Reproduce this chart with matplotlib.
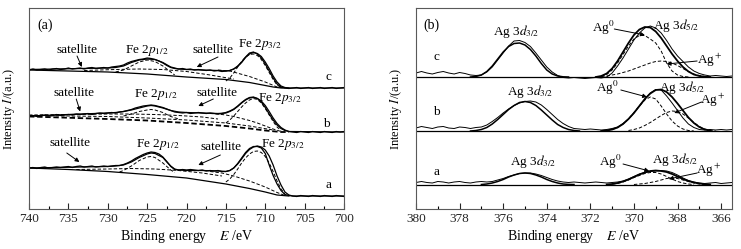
import numpy as np
import matplotlib
matplotlib.use("Agg")
import matplotlib.pyplot as plt
from matplotlib.ticker import MultipleLocator

plt.rcParams['font.family'] = ['Liberation Serif', 'DejaVu Serif']
plt.rcParams['mathtext.fontset'] = 'stix'

# ---------------- Panel (a): Fe 2p ----------------
fe_energy = np.arange(740, 699.9, -0.5)          # eV sampling of raw data
fe_raw_c = [139, 140, 139, 139.5, 140, 139, 140, 140.5, 139.5, 140, 141, 140, 140.5, 141, 140, 141, 141.5,
            140.5, 141, 141.5, 141, 142, 142.5, 143, 144, 146, 147.5, 148.5, 149.5, 150, 151, 150.5, 149.5,
            148, 146, 143.5, 141.5, 140.5, 140, 140.5, 139.5, 140, 139, 139.5, 139, 138.5, 139, 138, 138.5,
            137.5, 138, 138.5, 140, 143, 147, 152, 156, 157, 155, 151, 145, 138, 131, 125, 122, 121, 120.5,
            121, 121.5, 120.5, 121, 121.5, 120.5, 121, 121.5, 120.5, 121, 121.5, 120.5, 121, 121.5]
fe_raw_b = [93, 93.5, 92.5, 93.5, 94, 93, 93.5, 94.5, 93.5, 94, 94.5, 94, 95, 94.5, 95, 95.5, 94.5, 95.5, 96,
            95.5, 96, 96.5, 96, 97, 97.5, 98.5, 99.5, 101, 102, 103, 103.5, 104, 103.5, 102.5, 101.5, 100,
            98.5, 97, 96.5, 96, 96.5, 95.5, 96, 96.5, 96, 95.5, 96, 95.5, 95, 95.5, 96.5, 98, 100, 103, 106.5,
            109.5, 111.5, 112, 110.5, 107, 101.5, 95, 89, 84, 80.5, 78.5, 77.5, 77, 76.5, 77.5, 77, 76.5, 77.5,
            77, 76.5, 77.5, 77, 76.5, 77.5, 77, 77.5]
fe_raw_a = [41, 41.5, 40.5, 41.5, 42, 41, 41.5, 42, 41.5, 42, 42.5, 41.5, 42.5, 43, 42, 42.5, 43, 42, 42.5,
            43, 42.5, 43, 43.5, 43.5, 44.5, 46, 48, 50.5, 52.5, 54.5, 56, 57, 56.5, 55, 52, 47.5, 42.5, 39.5,
            39, 39.5, 39, 39.5, 39, 38.5, 39, 38, 38.5, 38, 38.5, 37.5, 37.5, 38.5, 41, 45.5, 51, 56.5, 60.5,
            62.5, 62.5, 61, 55.5, 44, 33.5, 25, 18.5, 14.5, 13.5, 13, 12.5, 13.5, 13, 12.5, 13.5, 13, 12.5,
            13.5, 13, 12.5, 13.5, 13, 12.5]

fe_fit_c_x = [740, 730, 729, 728, 727, 726, 725, 724, 723, 722, 721, 720, 718, 716, 715, 714.5, 714, 713.5,
              713, 712.5, 712, 711.5, 711, 710.5, 710, 709.5, 709, 708.5, 708, 707.5, 707, 700]
fe_fit_c_y = [139.5, 141, 141.5, 143, 146.5, 149, 150, 149.5, 146.5, 142, 140, 139.5, 139, 138.5, 138, 138.5,
              140, 142.5, 146.5, 151.5, 155, 156.5, 155.5, 152.5, 147, 140.5, 133, 127, 123, 121.5, 121, 121]
fe_fit_b_x = [740, 730, 729, 728, 727, 726, 725, 724.5, 724, 723, 722, 721, 720, 718, 716, 715, 714.5, 714,
              713.5, 713, 712.5, 712, 711.5, 711, 710.5, 710, 709.5, 709, 708.5, 708, 707.5, 707, 700]
fe_fit_b_y = [93, 96, 96.5, 97.5, 99, 101, 103, 103.5, 103, 101, 98.5, 97, 96.5, 96, 95.5, 96, 97.5, 99.5,
              102.5, 106, 109, 111, 111.5, 110.5, 108, 103.5, 97.5, 91, 85.5, 81.5, 79, 77.5, 77]
fe_fit_a_x = [740, 730, 729, 728, 727, 726, 725, 724.5, 724, 723, 722.5, 722, 721.5, 721, 720, 718, 716, 715,
              714.5, 714, 713.5, 713, 712.5, 712, 711.5, 711, 710.5, 710, 709.5, 709, 708.5, 708, 707.5, 707,
              706.5, 700]
fe_fit_a_y = [41, 42.5, 43, 44, 47, 51.5, 55, 56, 55.5, 51.5, 47, 43, 40, 39, 38.5, 38.5, 38, 37.5, 38.5, 41,
              45, 50, 55.5, 59.5, 62, 63, 62, 59, 53, 44, 33, 24, 17, 14, 13, 13]

fe_bg_c_x = [740, 730, 725, 720, 715, 712, 710, 709, 708, 707]
fe_bg_c_y = [139, 137, 135, 132, 129.5, 126.5, 123.5, 122, 121, 121]
fe_bg_b_x = [740, 730, 725, 720, 715, 712, 710, 708, 707]
fe_bg_b_y = [92.5, 90, 88.5, 86, 83, 80.5, 78.5, 77, 77]
fe_bg_a_x = [740, 735, 730, 725, 720, 715, 712, 710, 708.5, 707]
fe_bg_a_y = [41, 39.5, 37.5, 34.5, 31, 25, 20.5, 17, 14, 13]

# fitted components (dashed)
c_sat1_x = [733, 729, 726, 723, 720, 717, 714]
c_sat1_y = [138.5, 139.5, 140, 139.5, 137.5, 134, 130]
c_p12_x = [729, 728, 727, 726, 725, 724, 723, 722, 721.5]
c_p12_y = [137, 139, 143, 147, 149, 147.5, 143, 137, 134]
c_sat2_x = [716, 714.5, 712, 710, 708.5, 707.5]
c_sat2_y = [139, 138, 132.5, 127, 122, 121]
c_p32_x = [715, 714.5, 714, 713.5, 713, 712.5, 712, 711.5, 711, 710.5, 710, 709.5, 709, 708.5, 708]
c_p32_y = [128, 131, 136, 142, 147.5, 152, 154.5, 155, 153.5, 149.5, 143.5, 136.5, 129.5, 124, 121.5]

b_sat1_x = [740, 735, 730, 727, 724, 721, 718, 716]
b_sat1_y = [94, 94.5, 95, 95, 94.5, 93.5, 92, 90]
b_sat1b_x = [740, 730, 725, 720, 715, 712, 709]
b_sat1b_y = [93.5, 92.5, 91, 89, 86, 83, 79]
b_p12_x = [728, 727, 726, 725, 724.5, 724, 723, 722, 721]
b_p12_y = [93, 95, 97.5, 99, 99.5, 99, 96.5, 92.5, 90]
b_sat2_x = [717, 716, 715, 714, 713, 712, 711, 710, 709, 708]
b_sat2_y = [95.5, 95, 94, 92.5, 90.5, 88.5, 86, 83, 80, 77.5]
b_p32_x = [715, 714.5, 714, 713.5, 713, 712.5, 712, 711.5, 711, 710.5, 710, 709.5, 709, 708.5, 708]
b_p32_y = [86, 89, 93, 97.5, 102, 106, 109, 110.5, 109.5, 106, 100.5, 94, 87.5, 82, 78.5]

a_sat1_x = [734, 730, 727, 724, 721, 718, 715.5]
a_sat1_y = [39.5, 40, 40.5, 40, 38.5, 36, 33]
a_p12_x = [728.5, 728, 727, 726, 725, 724.5, 724, 723, 722, 721.5]
a_p12_y = [37, 38.5, 43, 48.5, 52, 52.5, 51.5, 46, 39, 36.5]
a_sat2_x = [717, 715.5, 714, 712, 710, 708.5, 707.5]
a_sat2_y = [37.5, 36, 33, 28, 22, 16.5, 13.5]
a_p32_x = [715, 714.5, 714, 713.5, 713, 712.5, 712, 711.5, 711, 710.5, 710, 709.5, 709, 708.5, 708, 707.5]
a_p32_y = [27, 30, 34.5, 40, 46, 51, 55, 57.5, 58, 56.5, 52.5, 46, 37.5, 28, 20, 15]

# ---------------- Panel (b): Ag 3d ----------------
ag_energy = np.arange(380, 365.49, -0.25)
ag_raw_c = [136, 137.5, 136, 135, 136.5, 137.5, 136, 135, 136.5, 135.5, 134, 133.5, 134, 137, 142, 149, 156,
            163, 168, 168.5, 166.5, 162.5, 156, 149, 142, 137, 133.5, 131.5, 131, 131.5, 131, 130.5, 131,
            131.5, 131, 132, 136, 143, 151, 160, 169, 176, 181, 183, 181, 176, 168.5, 160, 153, 147.5, 142,
            138, 135.5, 134, 133, 133.5, 133, 132.5, 133]
ag_raw_b = [81, 82.5, 81.5, 80.5, 82, 82.5, 81, 80.5, 82, 81.5, 80.5, 81.5, 82, 84, 87.5, 91.5, 96, 100,
            103.5, 106, 107.5, 108, 107, 104, 99.5, 94.5, 89.5, 85.5, 82.5, 80.5, 80, 79.5, 80, 79.5, 79,
            79.5, 80.5, 82, 85.5, 90, 96, 103, 110, 116, 119.5, 119, 113, 106, 98.5, 91, 85, 81.5, 79.5, 79,
            79.5, 79, 79.5, 79, 79.5]
ag_raw_a = [26.5, 27.5, 26.5, 26, 27.5, 27, 26, 27, 27.5, 26.5, 26, 27, 27.5, 27, 27.5, 29, 30.5, 32.5, 34,
            35.5, 36, 36, 35, 33.5, 31.5, 29.5, 28, 27, 26.5, 27, 26.5, 26, 26.5, 27, 26.5, 26, 26.5, 27, 28,
            30, 32.5, 35, 36.5, 37.5, 38, 38.5, 38, 36.5, 34, 31, 28.5, 27, 26, 25.5, 26, 26.5, 25.5, 26,
            26.5]
ag_baselines = [132, 78, 24.5]

ag_fit_c_d3 = (377.5, [132, 132.5, 134, 137.5, 143, 150, 157, 162.5, 165.5, 166, 164, 159.5, 153, 145.5, 139,
                       135, 133, 132.2, 132])
ag_fit_c_d5 = (371.75, [132, 133, 135.5, 140.5, 148, 157, 166, 174, 179.5, 182, 181.5, 177.5, 171, 163, 155,
                        148, 142, 137.5, 134.5, 133, 132.3, 132])
ag_c_ag0 = (371.5, [132.5, 134.5, 139, 146, 154.5, 163, 170, 173.5, 173.5, 170, 166, 158, 146, 138, 134,
                    132.5, 132])
ag_c_agp = (371.5, [132.5, 133, 134, 135, 136.5, 138, 140, 142, 144, 146, 147.5, 148, 147.5, 146, 143.5,
                    140.5, 137.5, 135, 133.5, 132.5, 132])

ag_fit_b_d3 = (377.5, [78, 78.5, 79.5, 81.5, 85, 89.5, 94.5, 99.5, 103.5, 106.5, 107.5, 106.5, 103.5, 99, 94,
                       89, 84.5, 81.5, 79.5, 78.5, 78])
ag_fit_b_d5 = (371.5, [78, 78.5, 79.5, 81.5, 85, 90, 96, 103, 110, 115.5, 119, 119.5, 117, 112, 105.5, 98.5,
                       91.5, 86, 82, 79.5, 78.3])
ag_b_ag0 = (371.25, [78.5, 79.5, 81.5, 85, 90, 96.5, 103, 109, 112, 110, 103, 95, 88, 83, 80, 78.5, 78])
ag_b_agp = (370.25, [78.5, 79.5, 81, 83.5, 86.5, 90, 93.5, 96.5, 98, 97.5, 95, 91, 86.5, 82.5, 80, 78.8, 78])

ag_fit_a_d3 = (377.0, [24.5, 25, 26, 27.5, 29.5, 32, 34, 35.5, 36, 35.5, 34, 32, 29.5, 27.5, 26, 25, 24.6,
                       24.5])
ag_fit_a_d5 = (371.25, [24.5, 25, 26, 27.5, 29.5, 32, 34.5, 36.5, 38, 38.5, 38, 37, 35, 32.5, 30, 28, 26.5,
                        25.5, 24.8, 24.5])
ag_a_ag0 = (371.0, [24.8, 25.5, 27, 29, 31.5, 33.5, 35.5, 36.5, 36.5, 35, 32.5, 30, 27.5, 26, 25, 24.5])
ag_a_agp = (370.0, [24.5, 25, 25.5, 26.5, 27.5, 29, 30.5, 31, 30.5, 29, 27.5, 26, 25, 24.5])

# ---------------- Figure ----------------
fig = plt.figure(figsize=(7.41, 2.49), dpi=100)
axA = fig.add_axes([29 / 741, 40 / 249, 315 / 741, 201 / 249])
axB = fig.add_axes([416 / 741, 40 / 249, 316 / 741, 201 / 249])

DASH = (0, (3.5, 2))
K = 'black'
RAW_LW = 0.9
FIT_LW = 0.9
DLW = 0.7

# Panel (a)
for raw, fx, fy, bx, by, bstyle in [
        (fe_raw_c, fe_fit_c_x, fe_fit_c_y, fe_bg_c_x, fe_bg_c_y, '-'),
        (fe_raw_b, fe_fit_b_x, fe_fit_b_y, fe_bg_b_x, fe_bg_b_y, '--'),
        (fe_raw_a, fe_fit_a_x, fe_fit_a_y, fe_bg_a_x, fe_bg_a_y, '-')]:
    axA.plot(fe_energy, raw, color=K, lw=RAW_LW)
    axA.plot(fx, fy, color=K, lw=FIT_LW)
    if bstyle == '-':
        axA.plot(bx, by, color=K, lw=0.9)
    else:
        axA.plot(bx, by, color=K, lw=1.3, linestyle=(0, (3, 1.5)))

for cx, cy in [(c_sat1_x, c_sat1_y), (c_p12_x, c_p12_y), (c_sat2_x, c_sat2_y), (c_p32_x, c_p32_y),
               (b_sat1_x, b_sat1_y), (b_sat1b_x, b_sat1b_y), (b_p12_x, b_p12_y), (b_sat2_x, b_sat2_y),
               (b_p32_x, b_p32_y),
               (a_sat1_x, a_sat1_y), (a_p12_x, a_p12_y), (a_sat2_x, a_sat2_y), (a_p32_x, a_p32_y)]:
    axA.plot(cx, cy, color=K, lw=DLW, linestyle=DASH)

axA.set_xlim(740, 700)
axA.set_ylim(0, 201)
axA.xaxis.set_major_locator(MultipleLocator(5))
axA.xaxis.set_minor_locator(MultipleLocator(2.5))

# Panel (b)
for raw, base in zip([ag_raw_c, ag_raw_b, ag_raw_a], ag_baselines):
    axB.plot(ag_energy, raw, color=K, lw=0.7)
    axB.axhline(base, color=K, lw=0.9)


def seg(start, vals):
    x = start - 0.25 * np.arange(len(vals))
    return x, vals


for d3, d5 in [(ag_fit_c_d3, ag_fit_c_d5), (ag_fit_b_d3, ag_fit_b_d5), (ag_fit_a_d3, ag_fit_a_d5)]:
    axB.plot(*seg(*d3), color=K, lw=1.1)
    axB.plot(*seg(*d5), color=K, lw=1.3)
for comp in [ag_c_ag0, ag_c_agp, ag_b_ag0, ag_b_agp, ag_a_ag0, ag_a_agp]:
    axB.plot(*seg(*comp), color=K, lw=DLW, linestyle=DASH)

axB.set_xlim(380, 365.5)
axB.set_ylim(0, 201)
axB.xaxis.set_major_locator(MultipleLocator(2))
axB.xaxis.set_minor_locator(MultipleLocator(1))

for ax in (axA, axB):
    ax.set_yticks([])
    ax.tick_params(axis='x', which='major', direction='in', length=4, width=0.8, labelsize=9.5, pad=3,
                   colors='0.15')
    ax.tick_params(axis='x', which='minor', direction='in', length=2.5, width=0.8)
    for s in ax.spines.values():
        s.set_color('0.35')
        s.set_linewidth(0.8)
    ax.set_xlabel('Binding energy    $E$ /eV', fontsize=10, labelpad=2)
    ax.set_ylabel('Intensity $I$/(a.u.)', fontsize=9, labelpad=4)

FS = 9.5
arrow = dict(arrowstyle='-|>', color=K, lw=0.7, mutation_scale=6, shrinkA=0, shrinkB=0)

# annotations panel (a)
axA.text(739.0, 184, '(a)', fontsize=10, ha='left', va='center')
for (tx, ty), (sx, sy), (ex, ey) in [
        ((733.9, 159), (733.9, 153), (733.3, 142)),
        ((716.6, 159), (716.0, 152), (718.7, 142)),
        ((734.3, 116), (734.0, 110), (733.5, 97.5)),
        ((716.1, 116), (716.6, 110), (718.5, 103)),
        ((734.8, 66), (735.2, 56), (733.6, 47)),
        ((715.6, 62), (715.7, 54), (718.5, 44))]:
    axA.text(tx, ty, 'satellite', fontsize=FS, ha='center', va='center')
    axA.annotate('', xy=(ex, ey), xytext=(sx, sy), arrowprops=arrow)
for tx, ty in [(725.0, 159), (723.9, 115), (723.7, 64)]:
    axA.text(tx, ty, 'Fe 2$p_{1/2}$', fontsize=FS, ha='center', va='center')
for tx, ty in [(710.7, 164), (708.1, 110), (707.8, 64)]:
    axA.text(tx, ty, 'Fe 2$p_{3/2}$', fontsize=FS, ha='center', va='center')
for tx, ty, lab in [(702.0, 132, 'c'), (702.2, 85, 'b'), (702.0, 24, 'a')]:
    axA.text(tx, ty, lab, fontsize=FS, ha='center', va='center')

# annotations panel (b)
axB.text(379.27, 184, '(b)', fontsize=10, ha='center', va='center')
for tx, ty, lab in [(379.05, 152, 'c'), (379.05, 97, 'b'), (379.05, 37, 'a')]:
    axB.text(tx, ty, lab, fontsize=FS, ha='center', va='center')
for tx, ty in [(375.4, 177), (374.75, 117), (374.6, 47)]:
    axB.text(tx, ty, 'Ag 3$d_{3/2}$', fontsize=FS, ha='center', va='center')
for tx, ty in [(368.05, 184), (367.8, 121), (368.1, 49)]:
    axB.text(tx, ty, 'Ag 3$d_{5/2}$', fontsize=FS, ha='center', va='center')
for (tx, ty), (sx, sy), (ex, ey) in [
        ((371.4, 181), (370.9, 180), (369.5, 174)),
        ((371.2, 121), (370.6, 119), (369.4, 112)),
        ((371.1, 47), (370.5, 45), (369.3, 38))]:
    axB.text(tx, ty, 'Ag$^0$', fontsize=FS, ha='center', va='center')
    axB.annotate('', xy=(ex, ey), xytext=(sx, sy), arrowprops=arrow)
for (tx, ty), (sx, sy), (ex, ey) in [
        ((366.5, 149), (367.1, 148), (368.5, 145)),
        ((366.4, 109), (366.9, 107), (368.15, 96)),
        ((366.55, 39), (367.1, 36), (368.4, 30))]:
    axB.text(tx, ty, 'Ag$^+$', fontsize=FS, ha='center', va='center')
    axB.annotate('', xy=(ex, ey), xytext=(sx, sy), arrowprops=arrow)

axA.yaxis.set_label_coords(-12 / 315, 0.5)
axB.yaxis.set_label_coords(-12 / 316, 0.5)

fig.savefig('out.png', dpi=100)
